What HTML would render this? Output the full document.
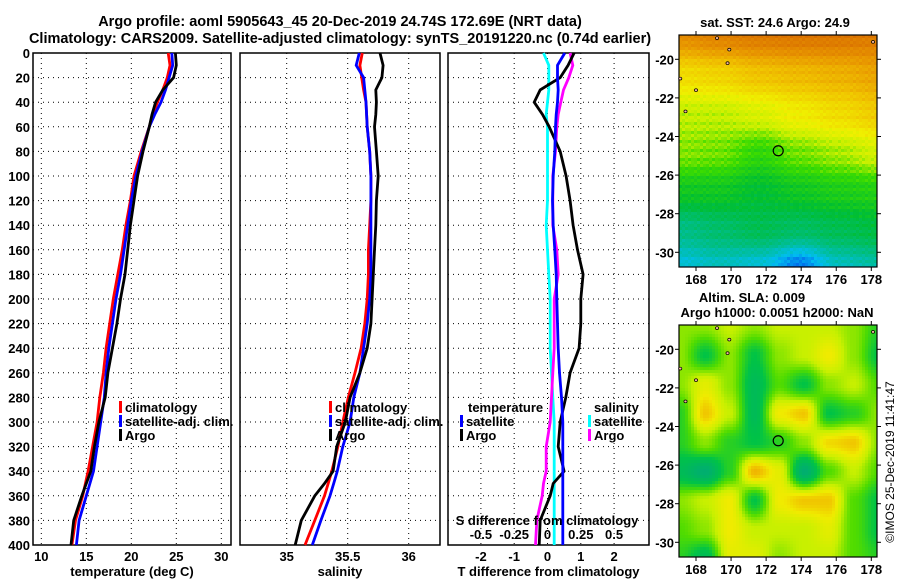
<!DOCTYPE html>
<html><head><meta charset="utf-8">
<style>
html,body{margin:0;padding:0;background:#fff;}
svg{display:block;font-family:"Liberation Sans",Arial,sans-serif;font-weight:bold;}
</style></head>
<body>
<svg id="chart" width="900" height="580" viewBox="0 0 900 580" xmlns="http://www.w3.org/2000/svg">
  <rect width="900" height="580" fill="#fff"/>
  <text x="340" y="26" text-anchor="middle" font-size="14.5">Argo profile: aoml 5905643_45 20-Dec-2019 24.74S 172.69E (NRT data)</text>
  <text x="340" y="43" text-anchor="middle" font-size="14.5">Climatology: CARS2009. Satellite-adjusted climatology: synTS_20191220.nc (0.74d earlier)</text>
  <g id="g1"></g>
  <g id="g2"></g>
  <g id="g3"></g>
  <g id="m1"></g>
  <g id="m2"></g>
  <text transform="translate(894,462) rotate(-90)" text-anchor="middle" font-size="12" font-weight="normal">©IMOS 25-Dec-2019 11:41:47</text>
</svg>
<script>
const depths = [0,10,20,30,40,50,60,80,100,120,140,160,180,200,220,240,260,280,300,320,340,350,360,380,400];
const tempClim = [24.1,24.3,24.0,23.5,22.9,22.4,22.0,21.1,20.3,19.9,19.4,19.0,18.5,18.0,17.6,17.2,16.9,16.5,16.2,15.7,15.2,14.9,14.6,13.8,13.4];
const tempSat = [24.5,24.6,24.2,23.8,23.3,22.6,22.0,21.2,20.5,20.0,19.6,19.2,18.8,18.3,17.9,17.5,17.2,17.0,16.6,16.2,15.8,15.4,15.0,14.2,13.9];
const tempArgo = [24.9,25.0,24.7,23.5,22.7,22.3,22.0,21.3,20.7,20.3,19.9,19.6,19.3,18.8,18.4,17.9,17.4,17.1,16.4,15.9,15.5,15.0,14.5,13.6,13.3];
const salClim = [35.62,35.6,35.615,35.63,35.65,35.655,35.66,35.68,35.69,35.69,35.68,35.67,35.67,35.66,35.64,35.61,35.56,35.505,35.46,35.42,35.37,35.34,35.31,35.23,35.15];
const salSat = [35.595,35.57,35.63,35.64,35.65,35.655,35.66,35.68,35.69,35.69,35.69,35.69,35.69,35.68,35.66,35.63,35.6,35.55,35.52,35.46,35.415,35.385,35.355,35.28,35.21];
const salArgo = [35.765,35.79,35.78,35.73,35.735,35.73,35.72,35.735,35.75,35.735,35.73,35.72,35.71,35.70,35.69,35.66,35.6,35.52,35.48,35.41,35.38,35.31,35.23,35.12,35.07];
const dTsat = [0.52,0.3,0.3,0.32,0.3,0.26,0.24,0.22,0.17,0.15,0.17,0.22,0.26,0.28,0.3,0.32,0.36,0.42,0.46,0.46,0.46,0.46,0.46,0.46,0.46];
const dTargo = [0.8,0.62,0.38,-0.22,-0.4,-0.15,0.05,0.38,0.56,0.68,0.77,0.9,1.07,1.0,1.0,0.95,0.68,0.55,0.38,0.32,0.5,0.17,0.08,-0.22,-0.25];
const dSsat = [-0.03,0.01,0.01,0.01,0.0,-0.01,0.0,0.0,0.0,0.0,-0.01,0.0,0.01,0.02,0.02,0.02,0.03,0.04,0.05,0.05,0.05,0.05,0.05,0.05,0.05];
const dSargo = [0.17,0.19,0.16,0.12,0.1,0.08,0.07,0.06,0.04,0.04,0.04,0.07,0.08,0.05,0.05,0.05,0.04,0.03,0.02,-0.01,-0.01,-0.03,-0.04,-0.08,-0.09];
const depthTicks = [0,20,40,60,80,100,120,140,160,180,200,220,240,260,280,300,320,340,360,380,400];
const tempTicks = [10,15,20,25,30];
const salTicks = [35,35.5,36];
const salTickLabels = ["35","35.5","36"];
const dTTicks = [-2,-1,0,1,2];
const dSTicks = [-0.5,-0.25,0,0.25,0.5];
const dSTickLabels = ["-0.5","-0.25","0","0.25","0.5"];
const lonTicks = [168,170,172,174,176,178];
const latTicks = [-20,-22,-24,-26,-28,-30];
const argoLon = 172.69, argoLat = -24.74;
const sstGrid = [
 [.90,.93,.95,.96,.96,.95],
 [.72,.74,.78,.80,.82,.85],
 [.60,.60,.63,.68,.72,.76],
 [.56,.55,.50,.55,.58,.62],
 [.45,.45,.42,.45,.47,.48],
 [.32,.35,.38,.36,.38,.40],
 [.22,.25,.22,.12,.25,.28]];
const slaGrid = [
 [.6,.6,.7,.6,.7,.7,.7,.6,.4],
 [.6,.3,.6,.3,.6,.7,.85,.6,.3],
 [.6,.8,.6,.2,.5,.3,.6,.7,.5],
 [.4,.95,.7,.2,.85,.95,.3,.4,.6],
 [.4,.6,.4,.3,.4,.6,.9,.95,.6],
 [.2,.05,.4,1,.8,.05,.5,.7,.5],
 [.6,.7,.85,.3,.85,.95,.95,.5,.3],
 [.5,.6,.85,.7,.7,.7,.8,.5,.3],
 [.4,.2,.8,.8,.6,.7,.7,.5,.4]];

const NS="http://www.w3.org/2000/svg";
function el(tag, attrs, parent){const e=document.createElementNS(NS,tag);for(const k in attrs)e.setAttribute(k,attrs[k]);parent.appendChild(e);return e;}
const yTop=53, yBot=545;
const yD = d => yTop + (d/400)*(yBot-yTop);
function lin(d0,d1,r0,r1){return v=>r0+(v-d0)/(d1-d0)*(r1-r0);}

function panel(g, x0, x1, xs, xticks, xlabels, xtitle, showY){
  xticks.forEach(t=>{const l=el('line',{x1:xs(t),x2:xs(t),y1:yTop,y2:yBot,stroke:'#000','stroke-width':1,'stroke-dasharray':'1,4'},g);
    
    });
  depthTicks.forEach(d=>{const l=el('line',{x1:x0,x2:x1,y1:yD(d),y2:yD(d),stroke:'#000','stroke-width':1,'stroke-dasharray':'1,4'},g);
    
    
    if(showY){const t=el('text',{x:x0-3,y:yD(d)+5,'text-anchor':'end','font-size':13},g);t.textContent=d;
      
      }
  });
  const r=el('rect',{x:x0,y:yTop,width:x1-x0,height:yBot-yTop,fill:'none',stroke:'#000','stroke-width':1.5},g);
  
  
  if(xlabels) xticks.forEach((t,i)=>{const tx=el('text',{x:xs(t),y:yBot+16,'text-anchor':'middle','font-size':13},g);tx.textContent=xlabels[i];
    
    });
  const tt=el('text',{x:(x0+x1)/2,y:576,'text-anchor':'middle','font-size':13},g);tt.textContent=xtitle;
  
  
}
function series(g, xs, vals, color, name){
  const pts=vals.map((v,i)=>xs(v).toFixed(1)+','+yD(depths[i]).toFixed(1)).join(' ');
  const p=el('polyline',{points:pts,fill:'none',stroke:color,'stroke-width':2.8,'stroke-linejoin':'miter'},g);
  
  
}
function legend(g, x, y, color, label, name){
  const m=el('rect',{x:x,y:y-11,width:3,height:12,fill:color},g);
  
  
  const t=el('text',{x:x+6,y:y,'font-size':13},g);t.textContent=label;
  
  
}

const g1=document.getElementById('g1');
const xT=lin(10,30,41.3,221.3);
panel(g1,33,231,xT,tempTicks,tempTicks.map(String),'temperature (deg C)',true);
series(g1,xT,tempClim,'#ff0000','temp-climatology-line');
series(g1,xT,tempSat,'#0000ff','temp-satellite-line');
series(g1,xT,tempArgo,'#000000','temp-argo-line');
legend(g1,119,412,'#ff0000','climatology','legend-climatology');
legend(g1,119,426,'#0000ff','satellite-adj. clim.','legend-satellite');
legend(g1,119,440,'#000000','Argo','legend-argo');

const g2=document.getElementById('g2');
const xS=lin(35,36,286.7,408.7);
panel(g2,240,440,xS,salTicks,salTickLabels,'salinity',false);
series(g2,xS,salClim,'#ff0000','sal-climatology-line');
series(g2,xS,salSat,'#0000ff','sal-satellite-line');
series(g2,xS,salArgo,'#000000','sal-argo-line');
legend(g2,329,412,'#ff0000','climatology','legend-climatology');
legend(g2,329,426,'#0000ff','satellite-adj. clim.','legend-satellite');
legend(g2,329,440,'#000000','Argo','legend-argo');

const g3=document.getElementById('g3');
const xDT=lin(0,1,547.5,580.8);
const xDS=lin(0,1,547.5,680.7);
panel(g3,448,649,xDT,dTTicks,dTTicks.map(String),'T difference from climatology',false);
series(g3,xDS,dSsat,'#00ffff','dsal-satellite-line');
series(g3,xDS,dSargo,'#ff00ff','dsal-argo-line');
series(g3,xDT,dTargo,'#000000','dtemp-argo-line');
series(g3,xDT,dTsat,'#0000ff','dtemp-satellite-line');
let tx=el('text',{x:468,y:412,'font-size':13},g3);tx.textContent='temperature';


legend(g3,460,426,'#0000ff','satellite','legend-dtemp-satellite');
legend(g3,460,440,'#000000','Argo','legend-dtemp-argo');
tx=el('text',{x:594,y:412,'font-size':13},g3);tx.textContent='salinity';


legend(g3,588,426,'#00ffff','satellite','legend-dsal-satellite');
legend(g3,588,440,'#ff00ff','Argo','legend-dsal-argo');
tx=el('text',{x:547,y:525,'text-anchor':'middle','font-size':13},g3);tx.textContent='S difference from climatology';


dSTicks.forEach((t,i)=>{const s=el('text',{x:xDS(t),y:539,'text-anchor':'middle','font-size':13},g3);s.textContent=dSTickLabels[i];
  
  });

const mx0=679,mx1=877;
const mLon=lin(168,178,696,871.3);
function cmapSST(v){
  const stops=[[0,[0,60,220]],[.1,[0,90,235]],[.2,[0,190,240]],[.3,[0,190,150]],[.42,[0,190,50]],[.52,[60,220,0]],[.6,[200,240,0]],[.67,[240,240,0]],[.78,[240,195,0]],[.88,[232,150,0]],[1,[215,105,0]]];
  return interp(stops,v);
}
function cmapSLA(v){
  const stops=[[0,[0,170,120]],[.3,[0,195,70]],[.5,[80,220,0]],[.7,[200,240,0]],[.85,[240,235,0]],[1,[240,180,0]]];
  return interp(stops,v);
}
function interp(stops,v){
  v=Math.max(0,Math.min(1,v));
  for(let i=1;i<stops.length;i++){if(v<=stops[i][0]){const a=stops[i-1],b=stops[i];const f=(v-a[0])/(b[0]-a[0]);
    const c=a[1].map((x,j)=>Math.round(x+(b[1][j]-x)*f));return 'rgb('+c.join(',')+')';}}
  const c=stops[stops.length-1][1];return 'rgb('+c.join(',')+')';
}
function smooth(t){return t*t*(3-2*t);}
function bilinear(grid,fx,fy){
  const R=grid.length-1,C=grid[0].length-1;
  const gx=Math.max(0,Math.min(C,fx*C)),gy=Math.max(0,Math.min(R,fy*R));
  const i=Math.min(R-1,Math.floor(gy)),j=Math.min(C-1,Math.floor(gx));
  const u=smooth(gx-j),w=smooth(gy-i);
  return grid[i][j]*(1-u)*(1-w)+grid[i][j+1]*u*(1-w)+grid[i+1][j]*(1-u)*w+grid[i+1][j+1]*u*w;
}
function map(g, y0, y1, grid, cmap, cell, texture, titleLines){
  const mLat=lin(-20,-30,y0+24.3,y0+24.3+193);
  for(let y=y0;y<y1;y+=cell){for(let x=mx0;x<mx1;x+=cell){
    let v=bilinear(grid,(x-mx0)/(mx1-mx0),(y-y0)/(y1-y0));
    if(texture){v+=0.03*Math.sin(x*1.7+y*0.9)*Math.cos(y*2.3-x*0.4);}
    el('rect',{x:x,y:y,width:Math.min(cell,mx1-x),height:Math.min(cell,y1-y),fill:cmap(v)},g);
  }}
  const f=el('rect',{x:mx0,y:y0,width:mx1-mx0,height:y1-y0,fill:'none',stroke:'#000','stroke-width':1.2},g);
  
  
  [[169.2,-18.9],[169.9,-19.5],[167.1,-21.0],[168,-21.6],[167.4,-22.7],[169.8,-20.2],[178.1,-19.1]].forEach(p=>{
    el('ellipse',{cx:mLon(p[0]),cy:mLat(p[1]),rx:1.6,ry:1.4,fill:'#f4b6a0',stroke:'#000','stroke-width':0.7},g);});
  const c=el('circle',{cx:mLon(argoLon),cy:mLat(argoLat),r:5,fill:'none',stroke:'#000','stroke-width':1.2},g);
  
  
  lonTicks.forEach(t=>{el('line',{x1:mLon(t),x2:mLon(t),y1:y0,y2:y0-4,stroke:'#000'},g);el('line',{x1:mLon(t),x2:mLon(t),y1:y1,y2:y1+4,stroke:'#000'},g);
    const s=el('text',{x:mLon(t),y:y1+17,'text-anchor':'middle','font-size':13},g);s.textContent=t;
    
    });
  latTicks.forEach(t=>{el('line',{x1:mx0,x2:mx0-4,y1:mLat(t),y2:mLat(t),stroke:'#000'},g);el('line',{x1:mx1,x2:mx1+4,y1:mLat(t),y2:mLat(t),stroke:'#000'},g);
    const s=el('text',{x:mx0-5,y:mLat(t)+5,'text-anchor':'end','font-size':13},g);s.textContent=t;
    
    });
  titleLines.forEach(tl=>{const s=el('text',{x:tl[0],y:tl[1],'text-anchor':'middle','font-size':13},g);s.textContent=tl[2];
    
    });
}
map(document.getElementById('m1'),35,267,sstGrid,cmapSST,3,true,[[775,27,'sat. SST: 24.6 Argo: 24.9']]);
map(document.getElementById('m2'),325,557,slaGrid,cmapSLA,3,false,[[752,302,'Altim. SLA: 0.009'],[777,317,'Argo h1000: 0.0051 h2000: NaN']]);
</script>
</body></html>
